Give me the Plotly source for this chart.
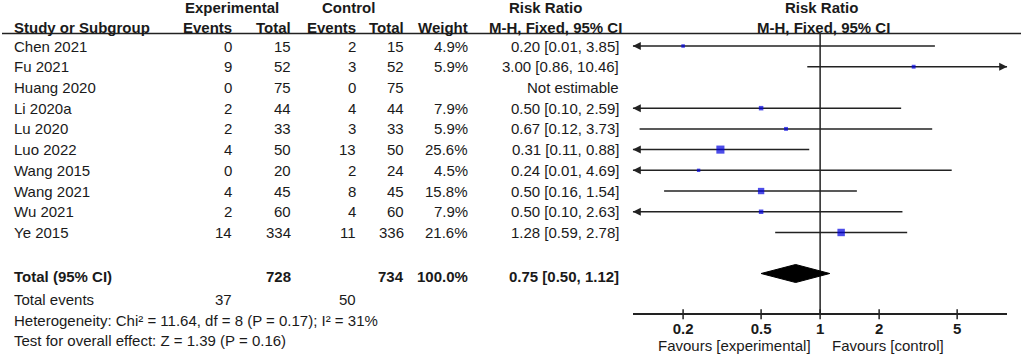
import math
import plotly.graph_objects as go

# ---------------- data ----------------
studies = ["Chen 2021", "Fu 2021", "Huang 2020", "Li 2020a", "Lu 2020",
           "Luo 2022", "Wang 2015", "Wang 2021", "Wu 2021", "Ye 2015"]
exp_events = [0, 9, 0, 2, 2, 4, 0, 4, 2, 14]
exp_total = [15, 52, 75, 44, 33, 50, 20, 45, 60, 334]
ctl_events = [2, 3, 0, 4, 3, 13, 2, 8, 4, 11]
ctl_total = [15, 52, 75, 44, 33, 50, 24, 45, 60, 336]
weights = [4.9, 5.9, None, 7.9, 5.9, 25.6, 4.5, 15.8, 7.9, 21.6]
rr = [0.20, 3.00, None, 0.50, 0.67, 0.31, 0.24, 0.50, 0.50, 1.28]
rr_lo = [0.01, 0.86, None, 0.10, 0.12, 0.11, 0.01, 0.16, 0.10, 0.59]
rr_hi = [3.85, 10.46, None, 2.59, 3.73, 0.88, 4.69, 1.54, 2.63, 2.78]

total_exp, total_ctl = 728, 734
total_weight = 100.0
total_rr, total_lo, total_hi = 0.75, 0.50, 1.12
events_exp, events_ctl = 37, 50
heterogeneity = "Heterogeneity: Chi² = 11.64, df = 8 (P = 0.17); I² = 31%"
overall = "Test for overall effect: Z = 1.39 (P = 0.16)"

tick_vals = [0.2, 0.5, 1, 2, 5]
tick_text = ["0.2", "0.5", "1", "2", "5"]
x_min, x_max = 0.1108, 9.0

# ---------------- layout constants (pixels) ----------------
W, H = 1024, 360
FONT = "Liberation Sans, Arial, sans-serif"
TXT = "#1a1a1a"
LINE = "#222222"
BLUE = "#0000e0"
FS = 15

HEAD1_Y, HEAD2_Y, LINE_Y = 7.5, 27.5, 33.5
ROW0, ROW_STEP = 46, 20.72
row_y = [ROW0 + i * ROW_STEP for i in range(len(studies))]
TOTAL_Y, DIAMOND_Y = 276.5, 273.5
EVENTS_Y, HET_Y, TEST_Y = 299, 320, 340.5
AXIS_Y = 314.3
FAV_Y = 345
PX_LEFT, PX_RIGHT = 632.8, 1007.2

COL_STUDY, COL_EE, COL_ET, COL_CE, COL_CT, COL_W, COL_RR = 14, 232, 291, 356, 404, 468, 619

annotations = []


def txt(xpx, y, s, anchor="left", bold=False):
    annotations.append(dict(
        x=xpx / W, xref="paper", y=y, yref="y", text=("<b>%s</b>" % s) if bold else s,
        showarrow=False, xanchor=anchor, yanchor="middle", borderpad=0, borderwidth=0,
        font=dict(family=FONT, size=FS, color=TXT)))


# headers
txt(232, HEAD1_Y, "Experimental", "center", True)
txt(348, HEAD1_Y, "Control", "center", True)
txt(545.5, HEAD1_Y, "Risk Ratio", "center", True)
txt(821, HEAD1_Y, "Risk Ratio", "center", True)
txt(COL_STUDY, HEAD2_Y, "Study or Subgroup", "left", True)
txt(COL_EE, HEAD2_Y, "Events", "right", True)
txt(COL_ET, HEAD2_Y, "Total", "right", True)
txt(COL_CE, HEAD2_Y, "Events", "right", True)
txt(COL_CT, HEAD2_Y, "Total", "right", True)
txt(COL_W, HEAD2_Y, "Weight", "right", True)
txt(555.5, HEAD2_Y, "M-H, Fixed, 95% CI", "center", True)
txt(823, HEAD2_Y, "M-H, Fixed, 95% CI", "center", True)

# study rows
for i, s in enumerate(studies):
    y = row_y[i]
    txt(COL_STUDY, y, s)
    txt(COL_EE, y, str(exp_events[i]), "right")
    txt(COL_ET, y, str(exp_total[i]), "right")
    txt(COL_CE, y, str(ctl_events[i]), "right")
    txt(COL_CT, y, str(ctl_total[i]), "right")
    if weights[i] is not None:
        txt(COL_W, y, "%.1f%%" % weights[i], "right")
    if rr[i] is not None:
        txt(COL_RR, y, "%.2f [%.2f, %.2f]" % (rr[i], rr_lo[i], rr_hi[i]), "right")
    else:
        txt(COL_RR, y, "Not estimable", "right")

# totals
txt(COL_STUDY, TOTAL_Y, "Total (95% CI)", "left", True)
txt(COL_ET, TOTAL_Y, str(total_exp), "right", True)
txt(COL_CT, TOTAL_Y, str(total_ctl), "right", True)
txt(COL_W, TOTAL_Y, "%.1f%%" % total_weight, "right", True)
txt(COL_RR, TOTAL_Y, "%.2f [%.2f, %.2f]" % (total_rr, total_lo, total_hi), "right", True)
txt(COL_STUDY, EVENTS_Y, "Total events")
txt(COL_EE, EVENTS_Y, str(events_exp), "right")
txt(COL_CE, EVENTS_Y, str(events_ctl), "right")
txt(COL_STUDY, HET_Y, heterogeneity)
txt(COL_STUDY, TEST_Y, overall)
txt(811, FAV_Y, "Favours [experimental]", "right")
txt(832, FAV_Y, "Favours [control]", "left")

fig = go.Figure()

# CI lines
lx, ly = [], []
left_arrows, right_arrows = [], []
for i in range(len(studies)):
    if rr[i] is None:
        continue
    lx += [max(rr_lo[i], x_min), min(rr_hi[i], x_max), None]
    ly += [row_y[i], row_y[i], None]
    if rr_lo[i] < x_min:
        left_arrows.append(row_y[i])
    if rr_hi[i] > x_max:
        right_arrows.append(row_y[i])

fig.add_trace(go.Scatter(x=lx, y=ly, mode="lines", line=dict(color=LINE, width=1.5),
                         hoverinfo="skip", cliponaxis=False))
fig.add_trace(go.Scatter(x=[x_min] * len(left_arrows), y=left_arrows, mode="markers",
                         marker=dict(symbol="arrow-left", size=8, color=LINE, line=dict(width=0)),
                         cliponaxis=False, hoverinfo="skip"))
fig.add_trace(go.Scatter(x=[x_max] * len(right_arrows), y=right_arrows, mode="markers",
                         marker=dict(symbol="arrow-right", size=8, color=LINE, line=dict(width=0)),
                         cliponaxis=False, hoverinfo="skip"))

# reference line at 1
fig.add_trace(go.Scatter(x=[1, 1], y=[LINE_Y, AXIS_Y], mode="lines",
                         line=dict(color=LINE, width=1.5), hoverinfo="skip", cliponaxis=False))

# tick marks crossing the axis
tx, ty = [], []
for v in tick_vals:
    tx += [v, v, None]
    ty += [AXIS_Y - 5, AXIS_Y + 5, None]
fig.add_trace(go.Scatter(x=tx, y=ty, mode="lines", line=dict(color=LINE, width=1.5),
                         hoverinfo="skip", cliponaxis=False))

# squares
sx, sy, ss = [], [], []
for i in range(len(studies)):
    if rr[i] is None:
        continue
    sx.append(rr[i]); sy.append(row_y[i]); ss.append(1.6 * math.sqrt(weights[i]))
fig.add_trace(go.Scatter(x=sx, y=sy, mode="markers",
                         marker=dict(symbol="square", size=ss, color=BLUE, line=dict(width=0)),
                         hoverinfo="skip", cliponaxis=False))

# diamond
fig.add_trace(go.Scatter(x=[total_lo, total_rr, total_hi, total_rr, total_lo],
                         y=[DIAMOND_Y, DIAMOND_Y - 9, DIAMOND_Y, DIAMOND_Y + 9, DIAMOND_Y],
                         mode="lines", fill="toself", fillcolor="#000000",
                         line=dict(color="#000000", width=1), hoverinfo="skip", cliponaxis=False))

shapes = [dict(type="line", xref="paper", yref="y", x0=2 / W, x1=1021 / W, y0=LINE_Y, y1=LINE_Y,
               line=dict(color=LINE, width=1.5))]

fig.update_layout(
    width=W, height=H, margin=dict(l=0, r=0, t=0, b=0),
    paper_bgcolor="white", plot_bgcolor="rgba(0,0,0,0)", showlegend=False,
    annotations=annotations, shapes=shapes,
    xaxis=dict(type="log", range=[math.log10(x_min), math.log10(x_max)],
               domain=[PX_LEFT / W, PX_RIGHT / W], anchor="free", position=1 - AXIS_Y / H,
               showline=True, linecolor=LINE, linewidth=2, showgrid=False, zeroline=False,
               ticks="", ticklabelstandoff=1,
               tickvals=tick_vals, ticktext=tick_text,
               tickfont=dict(family=FONT, size=FS, color=TXT, weight="bold")),
    yaxis=dict(range=[H, 0], domain=[0, 1], visible=False),
)

fig.write_html("out.html", config={"displayModeBar": False},
               post_script="document.body.style.margin='0';")
